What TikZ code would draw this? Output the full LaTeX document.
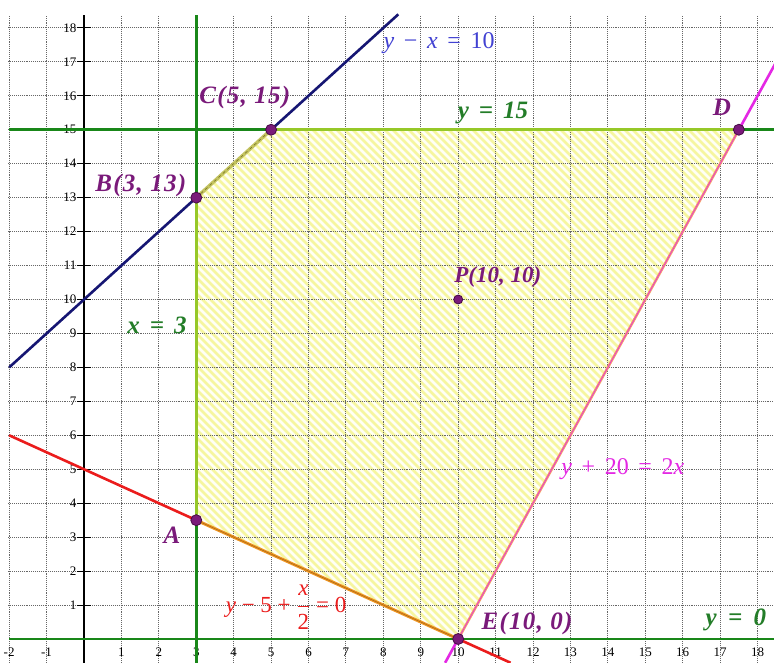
\documentclass[tikz,border=0pt]{standalone}
\usepackage{fontspec}
\setmainfont{Liberation Serif}
\usepackage{amsmath}
\definecolor{pur}{RGB}{122,26,122}
\definecolor{purdark}{RGB}{70,10,70}
\definecolor{navy}{RGB}{22,22,115}
\definecolor{bluetxt}{RGB}{65,65,210}
\definecolor{grn}{RGB}{25,135,25}
\definecolor{grntxt}{RGB}{35,125,40}
\definecolor{redl}{RGB}{235,28,28}
\definecolor{magl}{RGB}{228,40,228}
\definecolor{ygreen}{RGB}{150,200,40}
\definecolor{olivey}{RGB}{195,195,95}
\definecolor{orangeb}{RGB}{240,150,35}
\definecolor{salmon}{RGB}{245,160,110}
\definecolor{hatchc}{RGB}{246,246,160}
\definecolor{regc}{RGB}{255,255,245}
\newcommand{\gapsp}{\hspace{0.4em}}
\begin{document}
\begin{tikzpicture}[x=37.42pt,y=33.95pt,
  gridl/.style={black!60, line width=0.9pt, densely dotted},
  hatch/.style={hatchc, line width=2.8pt},
  thickl/.style={line width=2.6pt},
  lab/.style={font=\fontsize{25}{29}\selectfont\bfseries\itshape, text=pur, inner sep=0pt},
  spaced/.style={font=\fontsize{25}{29}\selectfont\bfseries\itshape\addfontfeature{LetterSpace=5}},
  eq/.style={font=\fontsize{24}{28}\selectfont, inner sep=0pt},
  tick/.style={font=\fontsize{13}{15}\selectfont, inner sep=0pt},
  dot/.style={circle, fill=pur, draw=purdark, line width=0.8pt, minimum size=11pt, inner sep=0pt}]
\useasboundingbox (-84pt,-23pt) rectangle (690pt,639pt);
\fill[white] (-84pt,-23pt) rectangle (690pt,639pt);
% vertices
\coordinate (A) at (3,3.5);
\coordinate (B) at (3,13);
\coordinate (C) at (5,15);
\coordinate (D) at (17.5,15);
\coordinate (E) at (10,0);
\coordinate (P) at (10,10);
% line ends
\coordinate (blueL) at (-2,8);
\coordinate (blueT) at (8.4,18.4);
\coordinate (redL) at (-2,6);
\coordinate (redR) at (11.4,-0.7);
\coordinate (magB) at (9.65,-0.7);
\coordinate (magT) at (18.7,17.4);
\coordinate (x3B) at (3,-0.7);
\coordinate (x3T) at (3,18.38);
\coordinate (y15L) at (-2,15);
\coordinate (y15R) at (18.5,15);
\coordinate (y0L) at (-2,0);
\coordinate (y0R) at (18.5,0);
\coordinate (axB) at (0,-0.7);
\coordinate (axT) at (0,18.38);
% region
\fill[regc] (A) -- (B) -- (C) -- (D) -- (E) -- cycle;
\begin{scope}
\clip (A) -- (B) -- (C) -- (D) -- (E) -- cycle;
\foreach \k in {-432,-424,...,690} \draw[hatch] (\k pt,530pt) -- ++(550pt,-550pt);
\end{scope}
% grid
\foreach \i in {-2,...,18} \draw[gridl] (\i,-0.7) -- (\i,18.38);
\foreach \j in {1,...,18} \draw[gridl] (-2.02,\j) -- (18.5,\j);
% tick labels
\foreach \j in {1,...,18} {
  \draw[black, line width=1pt] (-0.2,\j) -- (0.2,\j);
  \node[tick, anchor=east] (yl\j) at (-0.2,\j) {\j};
}
\foreach \i in {-2,-1,1,2,3,4,5,6,7,8,9,10,11,12,13,14,15,16,17,18}
  \node[tick] (xl\i) at (\i,-0.39) {\i};
% axis
\draw[black, line width=2.2pt] (axB) -- (axT);
% green lines
\draw[grn, thickl] (x3B) -- (A);
\draw[grn, thickl] (B) -- (x3T);
\draw[grn, thickl] (y15L) -- (C);
\draw[grn, thickl] (D) -- (y15R);
\draw[grn, thickl] (y0L) -- (y0R);
% other lines
\draw[navy, thickl] (blueL) -- (B);
\draw[navy, thickl] (C) -- (blueT);
\draw[redl, thickl] (redL) -- (A);
\draw[redl, thickl] (E) -- (redR);
\draw[magl, thickl] (magB) -- (E);
\draw[magl, thickl] (D) -- (magT);
% boundary of region
\draw[ygreen, line width=3pt] (A) -- (B);
\draw[olivey, line width=3.5pt] (B) -- (C);
\draw[olive!70!black, line width=0.5pt, dashed] (B) -- (C);
\draw[ygreen, line width=3pt] (C) -- (D);
\draw[salmon, line width=2.6pt] (D) -- (E);
\draw[magl, line width=0.6pt] (D) -- (E);
\draw[orangeb, line width=3pt] (E) -- (A);
\draw[orangeb!70!black, line width=0.6pt] (E) -- (A);
% labels
\node[eq, text=bluetxt] (lblue) at (9.49,17.56) {\textit{y}\gapsp−\gapsp\textit{x}\gapsp=\gapsp10};
\node[lab, spaced] (lC) at (4.30,15.94) {C(5, 15)};
\node[lab, spaced] (lB) at (1.52,13.37) {B(3, 13)};
\node[lab, text=grntxt] (ly15) at (10.93,15.49) {y\gapsp=\gapsp15};
\node[lab] (lD) at (17.05,15.67) {D};
\node[lab, font=\fontsize{23}{27}\selectfont\bfseries\itshape] (lP) at (11.06,10.66) {P(10, 10)};
\node[lab, text=grntxt] (lx3) at (1.95,9.25) {x\gapsp=\gapsp3};
\node[lab] (lA) at (2.35,3.06) {A};
\node[eq, text=magl] (lmag) at (14.40,5.01) {\textit{y}\gapsp+\gapsp20\gapsp=\gapsp2\textit{x}};
\node[eq, font=\fontsize{23}{27}\selectfont, text=redl] (lred) at (5.40,0.94) {\textit{y} − 5 + $\dfrac{\mbox{\textit{x}}}{\mbox{2}}$ = 0};
\node[lab, spaced] (lE) at (11.84,0.47) {E(10, 0)};
\node[lab, text=grntxt] (ly0) at (17.42,0.56) {y\hspace{0.45em}=\hspace{0.45em}0};
% points
\node[dot] (dA) at (A) {};
\node[dot] (dB) at (B) {};
\node[dot] (dC) at (C) {};
\node[dot] (dD) at (D) {};
\node[dot] (dE) at (E) {};
\node[dot, minimum size=9pt] (dP) at (P) {};
\end{tikzpicture}
\end{document}
